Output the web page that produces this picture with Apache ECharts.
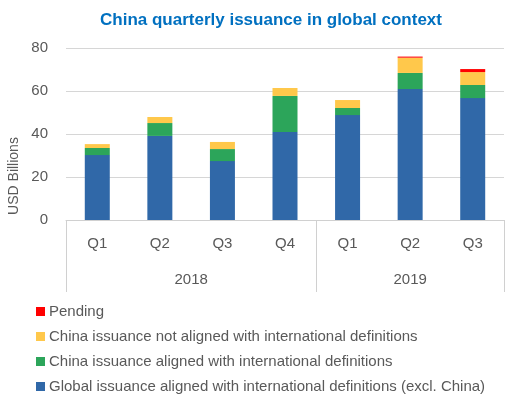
<!DOCTYPE html>
<html><head><meta charset="utf-8">
<script src="https://cdn.jsdelivr.net/npm/echarts@6/dist/echarts.min.js"></script>
<style>html,body{margin:0;padding:0;background:#fff}#c{width:505px;height:395px}</style>
</head><body><div id="c"></div>
<script>
var quarters = ['Q1','Q2','Q3','Q4','Q1','Q2','Q3'];
var years = ['2018','2019'];
var yearCenters = [2, 5.5];
var yearBounds = [0, 4, 7];
var globalExclChina = [30.2, 39.1, 27.4, 40.9, 48.8, 60.9, 56.7];
var chinaAligned = [3.3, 6.0, 5.6, 16.8, 3.3, 7.5, 6.1];
var chinaNotAligned = [1.8, 2.8, 3.3, 3.7, 3.7, 7.1, 6.0];
var pending = [0, 0, 0, 0, 0, 0.5, 1.4];
var names = ['Global issuance aligned with international definitions (excl. China)',
  'China issuance aligned with international definitions',
  'China issuance not aligned with international definitions',
  'Pending'];
var colors = ['#3068a8', '#2ca55a', '#ffc84b', '#ff0000'];
var FONT = 'Liberation Sans';
var TXT = '#595959';

var chart = echarts.init(document.getElementById('c'));
var dataSets = [globalExclChina, chinaAligned, chinaNotAligned, pending];
var series = dataSets.map(function (d, i) {
  return { name: names[i], type: 'bar', stack: 'total', data: d, barWidth: 25,
    itemStyle: { color: colors[i] }, xAxisIndex: 0, yAxisIndex: 0 };
});
chart.setOption({
  animation: false,
  title: { text: 'China quarterly issuance in global context', left: 266, top: 7, textAlign: 'center',
    textStyle: { fontFamily: FONT, fontSize: 17, fontWeight: 'bold', color: '#0070c0' } },
  grid: { left: 66, right: 1, top: 48, bottom: 175 },
  legend: { orient: 'vertical', left: 31, top: 298, height: 120, itemWidth: 9, itemHeight: 9, itemGap: 8, icon: 'rect',
    data: [names[3], names[2], names[1], names[0]],
    textStyle: { fontFamily: FONT, fontSize: 15, color: TXT, lineHeight: 17, padding: [0,0,0,-1] } },
  xAxis: [
    { type: 'category', data: quarters, position: 'bottom',
      axisLine: { show: true, lineStyle: { color: '#d0d0d0', width: 1 } },
      axisTick: { show: false },
      axisLabel: { margin: 16, fontFamily: FONT, fontSize: 15, color: TXT } },
    { type: 'value', min: 0, max: 7, position: 'bottom', gridIndex: 0,
      splitLine: { show: false }, axisLine: { show: false },
      axisTick: { show: true, inside: false, length: 72, customValues: yearBounds, lineStyle: { color: '#d0d0d0' } },
      axisLabel: { show: true, customValues: yearCenters, margin: 52, fontFamily: FONT, fontSize: 15, color: TXT,
        formatter: function (v) { var i = yearCenters.indexOf(v); return i >= 0 ? years[i] : ''; } } }
  ],
  yAxis: { type: 'value', min: 0, max: 80, interval: 20,
    axisLine: { show: false }, axisTick: { show: false },
    splitLine: { lineStyle: { color: '#d6d6d6', width: 1 } },
    axisLabel: { margin: 18, fontFamily: FONT, fontSize: 15, color: TXT } },
  graphic: [{ type: 'text', x: 14, y: 176, rotation: Math.PI / 2,
    style: { text: 'USD Billions', fontFamily: FONT, fontSize: 14, fill: TXT, align: 'center', verticalAlign: 'middle' } }],
  series: series
});
</script></body></html>
